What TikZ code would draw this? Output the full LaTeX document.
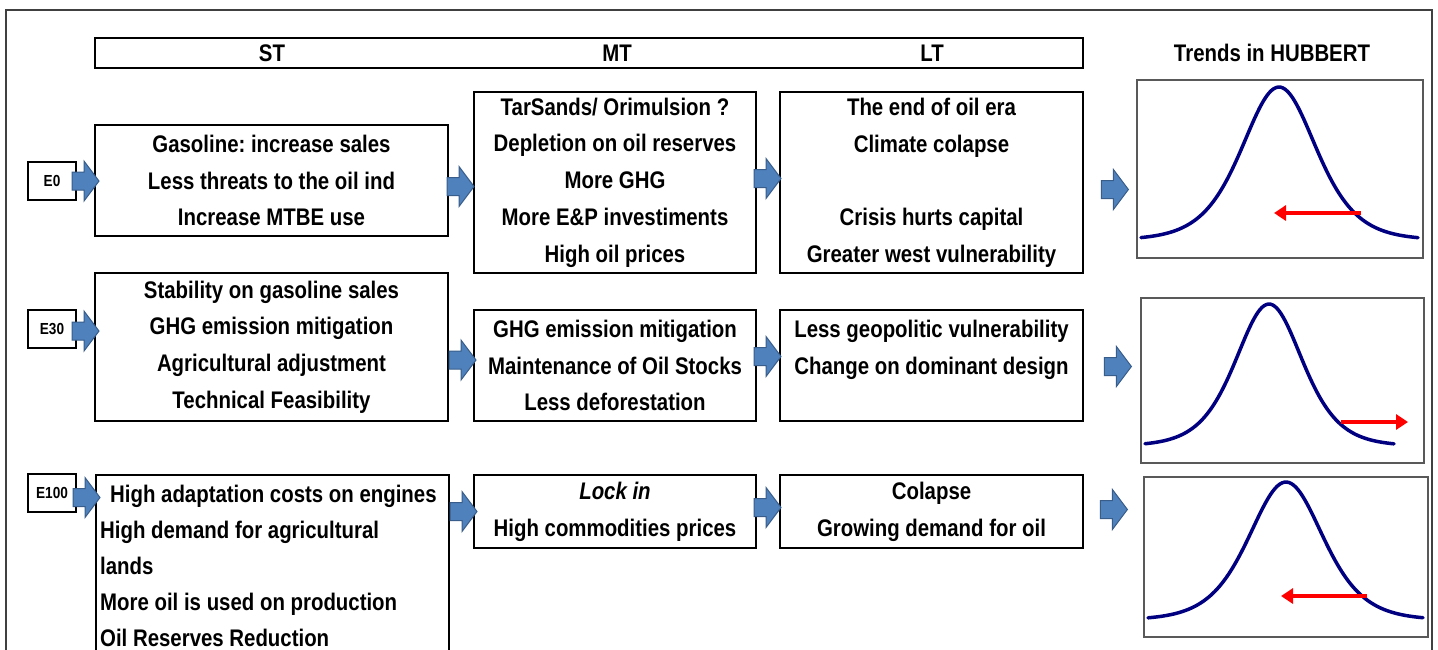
\documentclass[tikz,border=0pt]{standalone}
\usepackage{fontspec}
\setmainfont{Liberation Sans}[FakeStretch=0.85]
\usetikzlibrary{arrows.meta,calc}
\definecolor{arrowfill}{HTML}{4F81BD}
\definecolor{arrowedge}{HTML}{385D8A}
\definecolor{curveblue}{HTML}{000080}
\newcommand{\blockarr}[1]{\path[blockarr] #1 ++(-27,-9) -- ++(12,0) -- ++(0,-11) -- ++(15,20) -- ++(-15,20) -- ++(0,-11) -- ++(-12,0) -- cycle;}
\frenchspacing
\begin{document}
\begin{tikzpicture}[x=1pt,y=-1pt,
  box/.style={draw=black,line width=2pt,align=center,inner sep=0pt,font=\fontsize{24}{36.7}\selectfont\bfseries},
  ebox/.style={draw=black,line width=2pt,minimum width=48pt,minimum height=38pt,inner sep=0pt,font=\fontsize{16}{18}\selectfont\bfseries},
  hbox/.style={draw=black!65,line width=1.2pt,inner sep=0pt},
  hdrtext/.style={font=\fontsize{24}{28}\selectfont\bfseries},
  blockarr/.style={fill=arrowfill,draw=arrowedge,line width=1pt},
  hub/.style={draw=curveblue,line width=3.5pt,line cap=round},
  trend/.style={draw=red,line width=4pt,-{Triangle[length=12pt,width=15pt]}}]
\useasboundingbox (0,0) rectangle (1438,649);
\clip (0,0) rectangle (1438,649);
\fill[white] (0,0) rectangle (1438,649);
% outer frame
\draw[black!75,line width=1.5pt] (6,10) rectangle (1432,720);
% header
\node[draw=black,line width=2pt,minimum width=988pt,minimum height=30pt,inner sep=0pt] (hdr) at (589,53) {};
\node[hdrtext] (hst) at (272,53) {ST};
\node[hdrtext] (hmt) at (617,53) {MT};
\node[hdrtext] (hlt) at (932,53) {LT};
\node[hdrtext] (htr) at (1272,53) {Trends in HUBBERT};
% scenario labels
\node[ebox] (e0) at (52,181) {E0};
\node[ebox] (e30) at (52,329) {E30};
\node[ebox] (e100) at (52,492.5) {E100};
% row 1
\node[box,minimum width=353pt,minimum height=111pt] (st1) at (271.5,180.5) {Gasoline: increase sales\\Less threats to the oil ind\\Increase MTBE use};
\node[box,minimum width=282pt,minimum height=181pt] (mt1) at (615,182.5) {TarSands/ Orimulsion ?\\Depletion on oil reserves\\More GHG\\More E\&P investiments\\High oil prices};
\node[box,minimum width=303pt,minimum height=181pt] (lt1) at (931.5,182.5) {The end of oil era\\Climate colapse\\\strut\\Crisis hurts capital\\Greater west vulnerability};
\node[hbox,minimum width=286pt,minimum height=178pt] (h1) at (1280,169) {};
% row 2
\node[box,minimum width=353pt,minimum height=148pt] (st2) at (271.5,347) {Stability on gasoline sales\\GHG emission mitigation\\Agricultural adjustment\\Technical Feasibility};
\node[box,minimum width=282pt,minimum height=111pt] (mt2) at (615,365.5) {GHG emission mitigation\\Maintenance of Oil Stocks\\Less deforestation};
\node[box,minimum width=303pt,minimum height=111pt] (lt2) at (931.5,365.5) {Less geopolitic vulnerability\\Change on dominant design\\\vphantom{L}};
\node[hbox,minimum width=283pt,minimum height=165pt] (h2) at (1282.5,380.5) {};
% row 3
\node[box,anchor=north west,minimum width=353pt,minimum height=220pt] (st3) at (95,474) {};
\node[anchor=north west,align=left,inner sep=0pt,font=\fontsize{24}{36}\selectfont\bfseries] (st3t) at (100,485) {\hspace*{10pt}High adaptation costs on engines\\High demand for agricultural\\lands\\More oil is used on production\\Oil Reserves Reduction};
\node[box,minimum width=282pt,minimum height=73pt] (mt3) at (615,511.5) {\textit{Lock in}\\High commodities prices};
\node[box,minimum width=303pt,minimum height=73pt] (lt3) at (931.5,511.5) {Colapse\\Growing demand for oil};
\node[hbox,minimum width=284pt,minimum height=160pt] (h3) at (1286,557) {};
% block arrows
\blockarr{($(st1.west |- e0.east)+(5,0)$)}
\blockarr{($(mt1.west |- st1.east)+(1,6)$)}
\blockarr{($(lt1.west |- mt1.east)+(2,-4)$)}
\blockarr{($(h1.west |- lt1.east)+(-8,7)$)}
\blockarr{($(st2.west |- e30.east)+(5,2)$)}
\blockarr{($(mt2.west |- st2.east)+(3,13)$)}
\blockarr{($(lt2.west |- mt2.east)+(2,-9)$)}
\blockarr{($(h2.west |- lt2.east)+(-9,1)$)}
\blockarr{($(st3.west |- e100.east)+(5,5)$)}
\blockarr{($(mt3.west |- mt3.east)+(4,0)$)}
\blockarr{($(lt3.west |- lt3.east)+(2,-4)$)}
\blockarr{($(h3.west |- lt3.east)+(-16,-2)$)}
% Hubbert curves
\draw[hub] plot[domain=-138:139,samples=120] ({1279+\x},{240-153/(cosh(\x/50)^2)});
\draw[hub] plot[domain=-124:125,samples=120] ({1269+\x},{446-142/(cosh(\x/45)^2)});
\draw[hub] plot[domain=-138:137,samples=120] ({1286+\x},{620-138/(cosh(\x/50)^2)});
% trend arrows
\coordinate (r1s) at (1361,213); \coordinate (r1e) at (1274,213);
\coordinate (r2s) at (1341,422); \coordinate (r2e) at (1408,422);
\coordinate (r3s) at (1367,596); \coordinate (r3e) at (1281,596);
\draw[trend] (r1s) -- (r1e);
\draw[trend] (r2s) -- (r2e);
\draw[trend] (r3s) -- (r3e);
\end{tikzpicture}
\end{document}
